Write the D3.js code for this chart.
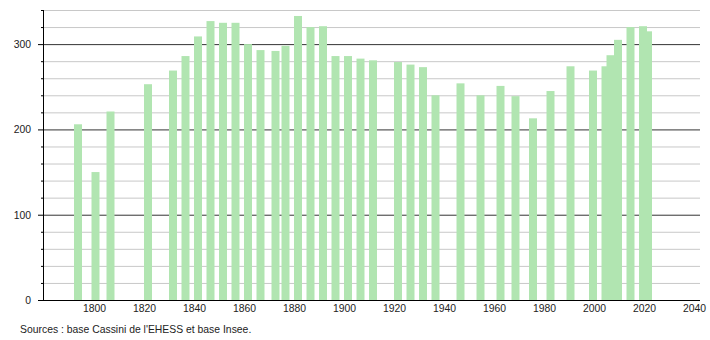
<!DOCTYPE html>
<html>
<head>
<meta charset="utf-8">
<script src="https://cdn.jsdelivr.net/npm/d3@7"></script>
<style>
  html, body { margin: 0; padding: 0; background: #fff; }
  svg { display: block; font-family: "Liberation Sans", Arial, sans-serif; }
</style>
</head>
<body>
<svg id="chart" width="710" height="340"></svg>
<script>
// ── Data ──────────────────────────────────────────────────────────────────────
const years = [1793, 1800, 1806, 1821, 1831, 1836, 1841, 1846, 1851, 1856,
               1861, 1866, 1872, 1876, 1881, 1886, 1891, 1896, 1901, 1906,
               1911, 1921, 1926, 1931, 1936, 1946, 1954, 1962, 1968, 1975,
               1982, 1990, 1999, 2004, 2006, 2009, 2014, 2019, 2021];
const population = [206, 150, 221, 253, 269, 286, 309, 327, 325, 325,
                    300, 293, 292, 298, 333, 320, 321, 286, 286, 283,
                    281, 279, 276, 273, 240, 254, 240, 251, 239, 213,
                    245, 274, 269, 274, 287, 305, 320, 321, 315];
const xTicks = [1800, 1820, 1840, 1860, 1880, 1900, 1920, 1940, 1960, 1980, 2000, 2020, 2040];
const yMajor = [0, 100, 200, 300];
const yMinor = [20, 40, 60, 80, 120, 140, 160, 180, 220, 240, 260, 280, 320, 340];
const sourceText = "Sources : base Cassini de l'EHESS et base Insee.";

// ── Layout ────────────────────────────────────────────────────────────────────
const W = 710, H = 340;
const margin = { top: 10, right: 10, bottom: 40, left: 43 };
const BAR_W = 8;
const FONT = 10.4;

const svg = d3.select('#chart');

const x = d3.scaleLinear()
  .domain([1779.4, 2042.2])
  .range([margin.left, W - margin.right]);

const y = d3.scaleLinear()
  .domain([0, 340])
  .range([H - margin.bottom, margin.top]);

// ── Grid ──────────────────────────────────────────────────────────────────────
svg.append('g')
  .selectAll('line')
  .data(yMinor)
  .join('line')
  .attr('x1', margin.left).attr('x2', W - margin.right)
  .attr('y1', d => y(d) + 0.5).attr('y2', d => y(d) + 0.5)
  .attr('stroke', '#c8c8c8');

svg.append('g')
  .selectAll('line')
  .data(yMajor.filter(d => d > 0))
  .join('line')
  .attr('x1', margin.left).attr('x2', W - margin.right)
  .attr('y1', d => y(d) + 0.5).attr('y2', d => y(d) + 0.5)
  .attr('stroke', '#333');

// ── Bars ──────────────────────────────────────────────────────────────────────
svg.append('g')
  .selectAll('rect')
  .data(years.map((yr, i) => ({ yr, v: population[i] })))
  .join('rect')
  .attr('x', d => x(d.yr) - 3)
  .attr('width', BAR_W)
  .attr('y', d => y(d.v))
  .attr('height', d => y(0) - y(d.v))
  .attr('fill', '#b1e5b1');

// ── Y axis ────────────────────────────────────────────────────────────────────
const yAxis = svg.append('g');
yAxis.append('line')
  .attr('x1', margin.left + 0.5).attr('x2', margin.left + 0.5)
  .attr('y1', y(340)).attr('y2', y(0))
  .attr('stroke', '#000');

yAxis.selectAll('.minor-tick')
  .data(yMinor)
  .join('line')
  .attr('class', 'minor-tick')
  .attr('x1', margin.left - 2).attr('x2', margin.left)
  .attr('y1', d => y(d) + 0.5).attr('y2', d => y(d) + 0.5)
  .attr('stroke', '#000');

yAxis.selectAll('.major-tick')
  .data(yMajor)
  .join('line')
  .attr('class', 'major-tick')
  .attr('x1', margin.left - 5).attr('x2', margin.left)
  .attr('y1', d => y(d) + 0.5).attr('y2', d => y(d) + 0.5)
  .attr('stroke', '#000');

yAxis.selectAll('text')
  .data(yMajor)
  .join('text')
  .attr('x', margin.left - 12)
  .attr('y', d => y(d) + 4)
  .attr('text-anchor', 'end')
  .attr('font-size', FONT)
  .attr('fill', '#222')
  .text(d => d);

// ── X axis ────────────────────────────────────────────────────────────────────
const xAxis = svg.append('g');
xAxis.append('line')
  .attr('x1', margin.left).attr('x2', W - margin.right)
  .attr('y1', y(0) + 0.5).attr('y2', y(0) + 0.5)
  .attr('stroke', '#000');

xAxis.selectAll('text')
  .data(xTicks)
  .join('text')
  .attr('x', d => x(d))
  .attr('y', y(0) + 12)
  .attr('text-anchor', 'middle')
  .attr('font-size', FONT)
  .attr('fill', '#222')
  .text(d => d);

// ── Source note ───────────────────────────────────────────────────────────────
svg.append('text')
  .attr('x', 20)
  .attr('y', 333)
  .attr('font-size', FONT)
  .attr('fill', '#222')
  .text(sourceText);
</script>
</body>
</html>
